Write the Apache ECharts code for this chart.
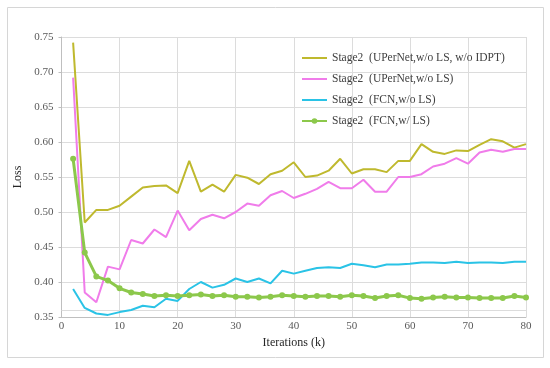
<!DOCTYPE html>
<html>
<head>
<meta charset="utf-8">
<script src="https://cdn.jsdelivr.net/npm/echarts@6/dist/echarts.min.js"></script>
<style>
  html, body { margin: 0; padding: 0; background: #fff; }
  #chart { width: 550px; height: 368px; }
</style>
</head>
<body>
<div id="chart"></div>
<script>
const iterations = [2,4,6,8,10,12,14,16,18,20,22,24,26,28,30,32,34,36,38,40,42,44,46,48,50,52,54,56,58,60,62,64,66,68,70,72,74,76,78,80];

const seriesNames = [
  'Stage2  (UPerNet,w/o LS, w/o IDPT)',
  'Stage2  (UPerNet,w/o LS)',
  'Stage2  (FCN,w/o LS)',
  'Stage2  (FCN,w/ LS)'
];

const upernetNoLsNoIdpt = [0.742,0.485,0.503,0.503,0.509,0.522,0.535,0.537,0.538,0.527,0.573,0.529,0.539,0.529,0.553,0.549,0.540,0.554,0.559,0.571,0.550,0.552,0.559,0.576,0.555,0.561,0.561,0.557,0.573,0.573,0.597,0.586,0.583,0.588,0.587,0.596,0.604,0.601,0.592,0.597];

const upernetNoLs = [0.692,0.385,0.371,0.422,0.418,0.460,0.455,0.475,0.464,0.502,0.474,0.490,0.496,0.491,0.500,0.512,0.509,0.524,0.530,0.520,0.526,0.533,0.543,0.534,0.534,0.546,0.529,0.529,0.550,0.550,0.554,0.565,0.569,0.577,0.569,0.585,0.589,0.586,0.590,0.590];

const fcnNoLs = [0.390,0.363,0.355,0.353,0.357,0.360,0.366,0.364,0.376,0.373,0.390,0.400,0.392,0.396,0.405,0.400,0.405,0.398,0.416,0.412,0.416,0.420,0.421,0.420,0.426,0.424,0.421,0.425,0.425,0.426,0.428,0.428,0.427,0.429,0.427,0.428,0.428,0.427,0.429,0.429];

const fcnLs = [0.576,0.442,0.408,0.402,0.391,0.385,0.383,0.380,0.381,0.380,0.381,0.382,0.380,0.381,0.379,0.379,0.378,0.379,0.381,0.380,0.379,0.380,0.380,0.379,0.381,0.380,0.377,0.380,0.381,0.377,0.376,0.378,0.379,0.378,0.378,0.377,0.377,0.377,0.380,0.378];

const yTicks = { min: 0.35, max: 0.75, interval: 0.05 };
const xTicks = { min: 0, max: 80, interval: 10 };
const extraLineValue = 0.36;

function pairs(vals) { return iterations.map((x, i) => [x, vals[i]]); }

const font = '"Liberation Serif", "Times New Roman", serif';
const gridColor = '#dcdcdc';
const labelColor = '#595959';
const colors = ['#bfb92e', '#f07cea', '#2ac3e6', '#8cc84b'];

const chart = echarts.init(document.getElementById('chart'));
chart.setOption({
  animation: false,
  backgroundColor: '#fff',
  textStyle: { fontFamily: font },
  graphic: [{
    type: 'rect',
    shape: { x: 7.5, y: 7.5, width: 536, height: 350 },
    style: { fill: 'none', stroke: '#d6d6d6', lineWidth: 1 },
    silent: true
  }],
  grid: { left: 61.5, right: 24, top: 37, bottom: 51, containLabel: false },
  legend: {
    orient: 'vertical',
    left: 296,
    top: 47,
    itemWidth: 25,
    itemHeight: 7,
    itemGap: 9,
    textStyle: { fontFamily: font, fontSize: 11.5, color: '#404040' },
    data: [
      { name: seriesNames[0], itemStyle: { opacity: 0 } },
      { name: seriesNames[1], itemStyle: { opacity: 0 } },
      { name: seriesNames[2], itemStyle: { opacity: 0 } },
      { name: seriesNames[3] }
    ]
  },
  xAxis: {
    type: 'value',
    min: xTicks.min, max: xTicks.max, interval: xTicks.interval,
    name: 'Iterations (k)',
    nameLocation: 'middle',
    nameGap: 19,
    nameTextStyle: { fontFamily: font, fontSize: 12, color: '#262626' },
    axisLine: { show: true, lineStyle: { color: '#bfbfbf' } },
    axisTick: { show: false },
    axisLabel: { fontFamily: font, fontSize: 11, color: labelColor, margin: 4 },
    splitLine: { show: true, lineStyle: { color: gridColor, width: 1 } }
  },
  yAxis: {
    type: 'value',
    min: yTicks.min, max: yTicks.max, interval: yTicks.interval,
    name: 'Loss',
    nameLocation: 'middle',
    nameGap: 33,
    nameRotate: 90,
    nameTextStyle: { fontFamily: font, fontSize: 12, color: '#262626' },
    axisLine: { show: true, lineStyle: { color: '#bfbfbf' } },
    axisTick: { show: true, length: 3, lineStyle: { color: '#bfbfbf' } },
    axisLabel: { fontFamily: font, fontSize: 11, color: labelColor, margin: 8,
      formatter: v => v.toFixed(2) },
    splitLine: { show: true, lineStyle: { color: gridColor, width: 1 } }
  },
  series: [
    {
      name: seriesNames[0], type: 'line', data: pairs(upernetNoLsNoIdpt),
      symbol: 'none', lineStyle: { color: colors[0], width: 2 }, itemStyle: { color: colors[0] },
      z: 3,
      markLine: {
        silent: true, symbol: 'none', label: { show: false },
        lineStyle: { color: gridColor, width: 1, type: 'solid' },
        data: [{ yAxis: extraLineValue }], z: 1
      }
    },
    {
      name: seriesNames[1], type: 'line', data: pairs(upernetNoLs),
      symbol: 'none', lineStyle: { color: colors[1], width: 2 }, itemStyle: { color: colors[1] }, z: 3
    },
    {
      name: seriesNames[2], type: 'line', data: pairs(fcnNoLs),
      symbol: 'none', lineStyle: { color: colors[2], width: 2 }, itemStyle: { color: colors[2] }, z: 3
    },
    {
      name: seriesNames[3], type: 'line', data: pairs(fcnLs),
      symbol: 'circle', symbolSize: 6, showSymbol: true,
      lineStyle: { color: colors[3], width: 3 }, itemStyle: { color: colors[3] }, z: 4
    }
  ]
});
</script>
</body>
</html>
